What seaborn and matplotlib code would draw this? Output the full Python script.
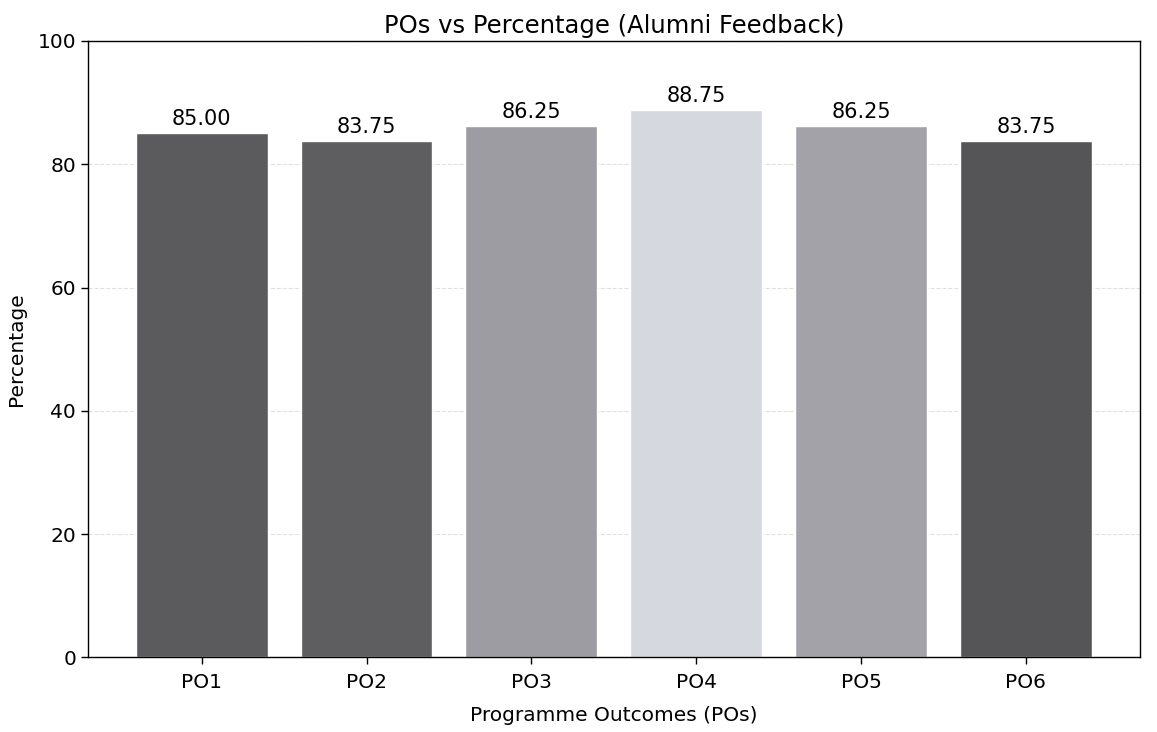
import matplotlib
matplotlib.use("Agg")
import matplotlib.pyplot as plt
import seaborn as sns
import pandas as pd

outcomes = ["PO1", "PO2", "PO3", "PO4", "PO5", "PO6"]
percentages = [85.00, 83.75, 86.25, 88.75, 86.25, 83.75]
bar_colors = ["#5b5b5d", "#5e5e60", "#9c9ca2", "#d6d8e0", "#a2a2a8", "#555557"]

df = pd.DataFrame({"PO": outcomes, "Percentage": percentages})

sns.set_style("white")
plt.rcParams["font.family"] = ["DejaVu Sans"]
plt.rcParams["text.color"] = "black"
plt.rcParams["axes.labelcolor"] = "black"
plt.rcParams["xtick.color"] = "black"
plt.rcParams["ytick.color"] = "black"

fig = plt.figure(figsize=(11.57, 7.32), dpi=100)
ax = fig.add_axes([0.076, 0.102, 0.909, 0.842])

sns.barplot(data=df, x="PO", y="Percentage", hue="PO", palette=bar_colors,
            legend=False, width=0.8, saturation=1, ax=ax, zorder=2)

ax.yaxis.grid(True, linestyle="--", color="#cccccc", alpha=0.6, zorder=0)
ax.set_axisbelow(True)
ax.set_xlim(-0.69, 5.69)
ax.set_ylim(0, 100)

for container in ax.containers:
    ax.bar_label(container, fmt="%.2f", padding=3, fontsize=15, color="black")

ax.set_title("POs vs Percentage (Alumni Feedback)", fontsize=17.5, pad=6,
             color="black")
ax.set_xlabel("Programme Outcomes (POs)", fontsize=14.5, labelpad=10)
ax.set_ylabel("Percentage", fontsize=14.5, labelpad=8)
ax.tick_params(axis="both", labelsize=14.5, length=5, width=1, direction="out",
               bottom=True, left=True, colors="black")
ax.tick_params(axis="x", pad=6)
for side in ax.spines.values():
    side.set_visible(True)
    side.set_color("black")
    side.set_linewidth(1)

fig.savefig("out.png", dpi=100)
